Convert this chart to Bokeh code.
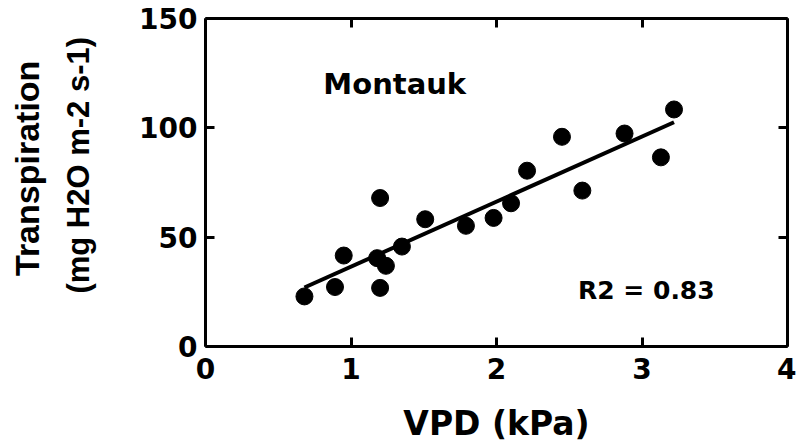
from bokeh.plotting import figure
from bokeh.models import Range1d, LinearAxis, FixedTicker, Label
from bokeh.embed import file_html
from bokeh.resources import INLINE

# ---- data ----
vpd = [0.68, 0.89, 0.95, 1.18, 1.24, 1.20, 1.20, 1.35, 1.51, 1.79, 1.98, 2.10, 2.21, 2.45, 2.59, 2.88, 3.13, 3.22]
transpiration = [22.9, 27.2, 41.6, 40.4, 36.9, 26.8, 67.9, 45.7, 58.2, 55.2, 58.8, 65.5, 80.4, 95.9, 71.3, 97.4, 86.5, 108.4]
fit_slope = 29.75
fit_intercept = 6.76
x_ticks = [0, 1, 2, 3, 4]
y_ticks = [0, 50, 100, 150]
site_label = "Montauk"
r2_label = "R2 = 0.83"
x_title = "VPD (kPa)"
y_title = "Transpiration"
y_unit = "(mg H2O m-2 s-1)"

FONT_H = "DejaVu Sans"
FONT_V = "Liberation Sans"
NBSP = "\u00a0"

p = figure(width=796, height=445, x_range=Range1d(0, 4), y_range=Range1d(0, 150),
           output_backend="svg", toolbar_location=None,
           min_border_left=205, min_border_right=9, min_border_top=18, min_border_bottom=98)
p.grid.visible = False
p.outline_line_color = None
p.background_fill_color = "white"
p.border_fill_color = "white"


def style_axis(ax, ticks, show_labels):
    ax.ticker = FixedTicker(ticks=ticks)
    ax.axis_line_width = 3
    ax.axis_line_color = "black"
    ax.major_tick_line_width = 3
    ax.major_tick_line_color = "black"
    ax.major_tick_in = 9
    ax.major_tick_out = 0
    ax.minor_tick_line_color = None
    if show_labels:
        ax.major_label_text_font = FONT_H
        ax.major_label_text_font_size = "28px"
        ax.major_label_text_font_style = "bold"
        ax.major_label_text_color = "black"
    else:
        ax.major_label_text_font_size = "1px"
        ax.major_label_text_alpha = 0
        ax.major_label_standoff = 0


def label_only_axis(text, size, standoff):
    ax = LinearAxis(ticker=FixedTicker(ticks=[]))
    ax.axis_line_color = None
    ax.major_tick_line_color = None
    ax.minor_tick_line_color = None
    ax.major_tick_in = 0
    ax.major_tick_out = 0
    ax.major_label_text_font_size = "1px"
    ax.major_label_text_alpha = 0
    ax.major_label_standoff = 0
    ax.axis_label = text
    ax.axis_label_text_font = FONT_V
    ax.axis_label_text_font_size = size
    ax.axis_label_text_font_style = "bold"
    ax.axis_label_text_color = "black"
    ax.axis_label_standoff = standoff
    return ax


xa = p.xaxis[0]
style_axis(xa, x_ticks, True)
xa.major_label_standoff = 11
xa.axis_label = x_title
xa.axis_label_text_font = FONT_H
xa.axis_label_text_font_size = "33px"
xa.axis_label_text_font_style = "bold"
xa.axis_label_text_color = "black"
xa.axis_label_standoff = 22

ya = p.yaxis[0]
style_axis(ya, y_ticks, True)
ya.major_label_standoff = 8

top = LinearAxis()
style_axis(top, x_ticks, False)
p.add_layout(top, "above")
right = LinearAxis()
style_axis(right, y_ticks, False)
p.add_layout(right, "right")

# y-axis title, two lines (leading no-break spaces lift the text slightly as in the reference)
p.add_layout(label_only_axis(NBSP * 4 + y_unit, "31px", 41), "left")
p.add_layout(label_only_axis(NBSP * 3 + y_title, "34px", 12), "left")

# regression line over the data range
fx = [min(vpd), max(vpd)]
fy = [fit_intercept + fit_slope * v for v in fx]
p.line(fx, fy, line_color="black", line_width=4)

p.scatter(vpd, transpiration, size=17, marker="circle", fill_color="black", line_color="black")

p.add_layout(Label(x=0.81, y=120, text=site_label, text_font=FONT_H, text_font_size="29px",
                   text_font_style="bold", text_baseline="alphabetic", text_color="black"))
p.add_layout(Label(x=2.56, y=25.5, text=r2_label, text_font=FONT_H, text_font_size="25px",
                   text_font_style="bold", text_baseline="alphabetic", text_color="black"))

open("out.html", "w").write(file_html(p, INLINE))
